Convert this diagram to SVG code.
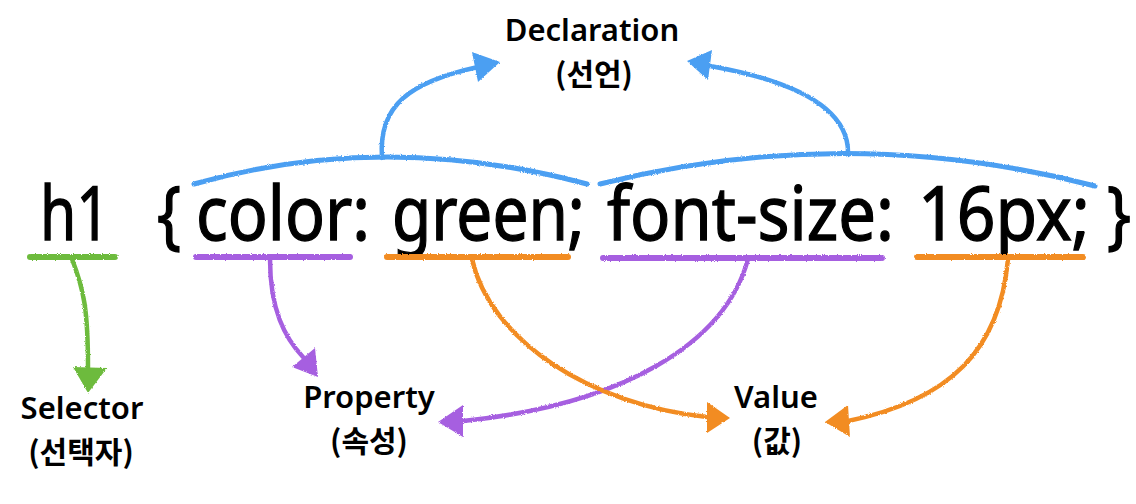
<svg xmlns="http://www.w3.org/2000/svg" width="1136" height="504" viewBox="0 0 1136 504">
  <defs>
    <filter id="crayon" x="-5%" y="-20%" width="110%" height="140%">
      <feTurbulence type="fractalNoise" baseFrequency="0.9" numOctaves="2" seed="3" result="n"/>
      <feDisplacementMap in="SourceGraphic" in2="n" scale="2.5" xChannelSelector="R" yChannelSelector="G"/>
    </filter>
  </defs>
  <style>
    .code { font-family: "Noto Sans", "Noto Sans CJK KR", sans-serif; font-size: 74px; fill: #000; stroke: #000; stroke-width: 1.3; }
    .lbl { font-family: "Noto Sans", "Noto Sans CJK KR", sans-serif; font-size: 31px; font-weight: 600; fill: #000; text-anchor: middle; }
    .ko { font-family: "Noto Sans CJK KR", sans-serif; font-size: 30px; font-weight: 700; }
    .ln { fill: none; stroke-linecap: round; stroke-linejoin: round; }
    .under { stroke-width: 6; }
    .arc { stroke-width: 5; }
    .arr { stroke-width: 4.5; }
    .blue { stroke: #4b9ff2; }
    .green { stroke: #6dbb3c; }
    .purple { stroke: #a65fe0; }
    .orange { stroke: #f28c22; }
    .hb { fill: #4b9ff2; }
    .hg { fill: #6dbb3c; }
    .hp { fill: #a65fe0; }
    .ho { fill: #f28c22; }
  </style>
  <rect width="1136" height="504" fill="#ffffff"/>

  <g id="code">
    <text class="code" x="40" y="240" textLength="70" lengthAdjust="spacingAndGlyphs">h1</text>
    <text class="code" x="157" y="240" textLength="24" lengthAdjust="spacingAndGlyphs">{</text>
    <text class="code" x="196" y="240" textLength="174" lengthAdjust="spacingAndGlyphs">color:</text>
    <text class="code" x="392" y="240" textLength="193" lengthAdjust="spacingAndGlyphs">green;</text>
    <text class="code" x="607" y="240" textLength="287" lengthAdjust="spacingAndGlyphs">font-size:</text>
    <text class="code" x="918" y="240" textLength="172" lengthAdjust="spacingAndGlyphs">16px;</text>
    <text class="code" x="1107" y="240" textLength="24" lengthAdjust="spacingAndGlyphs">}</text>
  </g>

  <g id="declaration">
    <text class="lbl" x="592" y="41">Declaration</text>
    <text class="lbl ko" x="594" y="85">(선언)</text>
  </g>
  <g id="selector">
    <text class="lbl" x="82" y="419">Selector</text>
    <text class="lbl ko" x="81" y="463">(선택자)</text>
  </g>
  <g id="property">
    <text class="lbl" x="369" y="408">Property</text>
    <text class="lbl ko" x="369" y="452">(속성)</text>
  </g>
  <g id="value">
    <text class="lbl" x="776" y="408">Value</text>
    <text class="lbl ko" x="777" y="452">(값)</text>
  </g>

  <g id="connectors" filter="url(#crayon)">
    <!-- underlines -->
    <path class="ln under green" d="M30,257 L115,257"/>
    <path class="ln under purple" d="M196,257 L350,257"/>
    <path class="ln under orange" d="M387,257 L568,257"/>
    <path class="ln under purple" d="M603,258 L882,258"/>
    <path class="ln under orange" d="M917,257 L1083,257"/>
    <!-- declaration arcs -->
    <path class="ln arc blue" d="M194,184 Q385,130 587,184"/>
    <path class="ln arc blue" d="M600,184 Q848,122 1095,186"/>
    <!-- arrows to Declaration -->
    <path class="ln arr blue" d="M382,158 C378,105 410,82 478,67"/>
    <polygon class="hb" points="472,52 500,62 478,82"/>
    <path class="ln arr blue" d="M848,155 C850,110 800,82 710,66"/>
    <polygon class="hb" points="712,50 687,61 708,80"/>
    <!-- selector -->
    <path class="ln arr green" d="M72,259 C84,290 88,310 88,368"/>
    <polygon class="hg" points="73,367 107,368 88,393"/>
    <!-- property -->
    <path class="ln arr purple" d="M270,259 C270,310 285,338 303,357"/>
    <polygon class="hp" points="315,348 292,367 318,377"/>
    <path class="ln arr purple" d="M748,259 C725,345 620,405 463,421"/>
    <polygon class="hp" points="463,405 438,422 463,437"/>
    <!-- value -->
    <path class="ln arr orange" d="M472,259 C490,340 590,405 707,417"/>
    <polygon class="ho" points="707,402 730,418 707,433"/>
    <path class="ln arr orange" d="M1008,259 C1000,350 950,400 848,421"/>
    <polygon class="ho" points="848,405 825,422 850,437"/>
  </g>
</svg>
